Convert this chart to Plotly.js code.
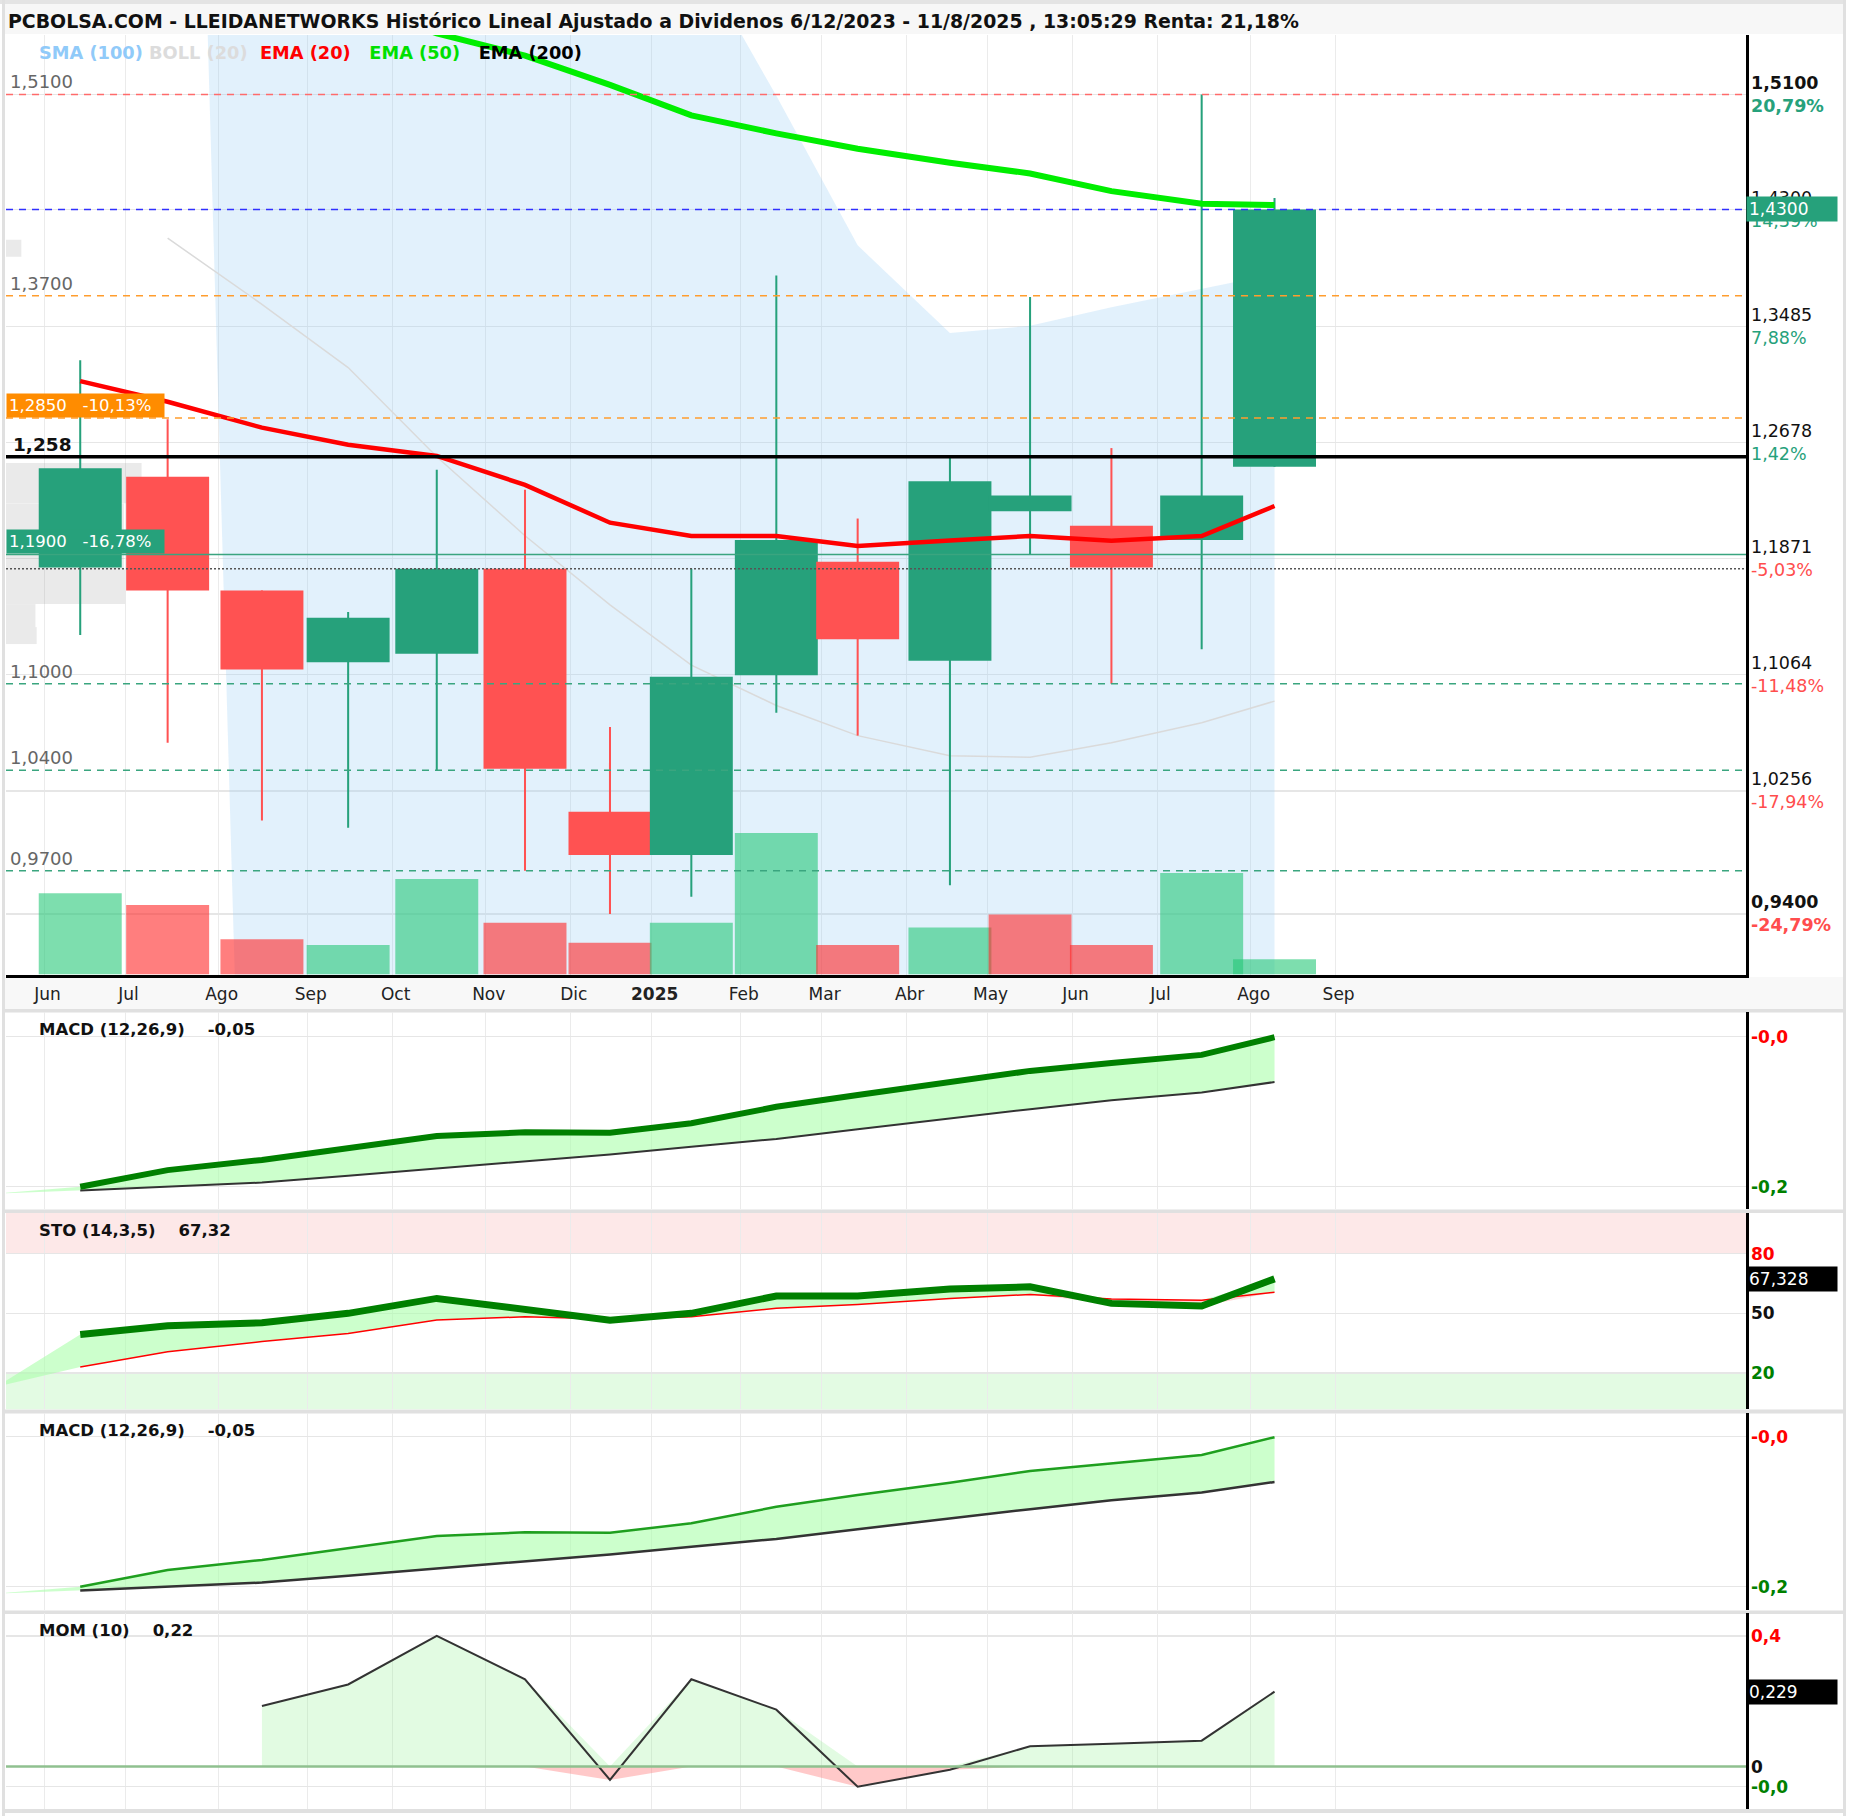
<!DOCTYPE html>
<html>
<head>
<meta charset="utf-8">
<script src="https://cdn.plot.ly/plotly-3.0.1.min.js"></script>
<style>html,body{margin:0;padding:0;background:#fff}#chart{width:1850px;height:1816px}</style>
</head>
<body>
<div id="chart"></div>
<script>
// ------------------------------------------------------------------ DATA
const titleText = 'PCBOLSA.COM - LLEIDANETWORKS Histórico Lineal Ajustado a Dividenos 6/12/2023 - 11/8/2025 , 13:05:29 Renta: 21,18%';

// monthly bars Jun 2024 .. Ago 2025 ; x = trading-session index (0 = first session of Jun 2024)
const candleMonths  = ['2024-06','2024-07','2024-08','2024-09','2024-10','2024-11','2024-12','2025-01','2025-02','2025-03','2025-04','2025-05','2025-06','2025-07','2025-08'];
const candleSession = [8.8, 30.4, 53.7, 75, 96.9, 118.7, 139.7, 159.8, 180.8, 200.9, 223.7, 243.5, 263.6, 285.9, 303.9];
const openP  = [1.181, 1.244, 1.165, 1.115, 1.121, 1.180, 1.011, 0.981, 1.106, 1.185, 1.116, 1.220, 1.210, 1.200, 1.251];
const highP  = [1.325, 1.284, 1.165, 1.150, 1.249, 1.235, 1.070, 1.180, 1.384, 1.215, 1.258, 1.369, 1.264, 1.510, 1.438];
const lowP   = [1.134, 1.059, 1.005, 1.000, 1.040, 0.970, 0.940, 0.952, 1.080, 1.064, 0.960, 1.190, 1.100, 1.124, 1.251];
const closeP = [1.250, 1.165, 1.110, 1.146, 1.180, 1.041, 0.981, 1.105, 1.200, 1.131, 1.241, 1.231, 1.181, 1.231, 1.430];
const volume = [690, 590, 300, 250, 810, 440, 270, 440, 1200, 250, 400, 510, 250, 860, 130];

// overlays on price
const ema20 = [1.3106, 1.2962, 1.2782, 1.2663, 1.2585, 1.2384, 1.2121, 1.2028, 1.2028, 1.1959, 1.1998, 1.2028, 1.1995, 1.2028, 1.2237];
const ema50 = [1.640, 1.620, 1.600, 1.575, 1.5524, 1.537, 1.5166, 1.4954, 1.4829, 1.4722, 1.4624, 1.455, 1.4427, 1.434, 1.433];
const bollUpper = [null, 2.52, 2.30, 2.10, 1.95, 1.82, 1.71, 1.613, 1.509, 1.405, 1.344, 1.349, 1.362, 1.375, 1.385];
const bollLower = [null, 2.52, 0.24, 0.40, 0.52, 0.60, 0.66, 0.70, 0.74, 0.78, 0.80, 0.82, 0.83, 0.84, 0.85];
const bollMid   = [null, 1.410, 1.364, 1.320, 1.258, 1.203, 1.155, 1.113, 1.085, 1.064, 1.050, 1.049, 1.059, 1.073, 1.088];

// volume by price (left profile)
const profilePrice  = [1.403, 1.2396, 1.2025, 1.1675, 1.1475, 1.1336];
const profileBin    = [0.0119, 0.0281, 0.046, 0.024, 0.016, 0.0118];
const profileVolume = [130, 1150, 1000, 1010, 250, 260];

// indicators
const macdLine   = [-0.198, -0.1814, -0.1712, -0.1596, -0.1474, -0.1436, -0.1441, -0.1346, -0.1181, -0.1063, -0.094, -0.0822, -0.0744, -0.0662, -0.0485];
const macdSignal = [-0.2019, -0.1982, -0.1939, -0.187, -0.18, -0.1727, -0.1657, -0.158, -0.1502, -0.1405, -0.1297, -0.1205, -0.1116, -0.1038, -0.0933];
const stoK = [39.4, 43.8, 45.3, 50, 57.5, 52, 46.6, 50, 58.7, 58.7, 62.2, 63.3, 55, 53.7, 67.3];
const stoD = [23.1, 30.7, 35.8, 39.9, 46.6, 48.3, 47.1, 48.3, 52.5, 54.5, 57.5, 59.5, 57.2, 56.6, 60.6];
const mom  = [null, null, 0.185, 0.251, 0.400, 0.267, -0.041, 0.267, 0.174, -0.062, -0.010, 0.062, 0.070, 0.079, 0.229];
// values of the month before the first bar (May 2024)
const prevSession = -12, prevMacd = -0.205, prevSignal = -0.205, prevK = 13, prevD = 13;

// axis ticks
const monthStart  = [0, 20, 43, 65, 86, 109, 130, 150, 172, 192, 213, 233, 254, 275, 298, 319];
const monthLabels = ['Jun','Jul','Ago','Sep','Oct','Nov','Dic','2025','Feb','Mar','Abr','May','Jun','Jul','Ago','Sep'];
const priceTickVals = [1.51, 1.43, 1.3485, 1.2678, 1.1871, 1.1064, 1.0256, 0.94];
const priceTickText = ['1,5100','1,4300','1,3485','1,2678','1,1871','1,1064','1,0256','0,9400'];
const priceTickPct  = ['20,79%','14,39%','7,88%','1,42%','-5,03%','-11,48%','-17,94%','-24,79%'];
const levelValues   = [1.51, 1.43, 1.37, 1.285, 1.258, 1.19, 1.18, 1.10, 1.04, 0.97];
const leftLevelVals = [1.51, 1.37, 1.10, 1.04, 0.97];
const leftLevelText = ['1,5100','1,3700','1,1000','1,0400','0,9700'];
const macdTickVals = [-0.048, -0.198], macdTickText = ['-0,0', '-0,2'];
const stoTickVals  = [80, 50, 20],     stoTickText  = ['80', '50', '20'];
const momTickVals  = [0.4, 0, -0.0615], momTickText = ['0,4', '0', '-0,0'];
const lastPrice = 1.43, lastPriceText = '1,4300';
const lastSto = 67.328, lastStoText = '67,328';
const lastMom = 0.229, lastMomText = '0,229';
const refLevelA = 1.285, refLevelAText = '1,2850&nbsp;&nbsp; -10,13%';
const refLevelB = 1.19,  refLevelBText = '1,1900&nbsp;&nbsp; -16,78%';
const pivotLevel = 1.258, pivotText = '1,258';

// ------------------------------------------------------------------ STYLE
const F = 'DejaVu Sans, Verdana, sans-serif';
const GREEN = '#26a17b', RED = '#ff5252';
const xRange = [-9.54, 420.4];
const priceRange = [0.8978, 1.5513];
const BODY_W = 20.5, WICK_W = 0.5;
const PROFILE_SCALE = 33.5 / 1150;   // sessions of chart width per profile volume unit
const px2x = X => (X - 6) / 1740;
const px2y = Y => (1811 - Y) / 1776;

const upBar = closeP.map((c, i) => c >= openP[i]);
const barColor = upBar.map(u => u ? GREEN : RED);
const volColor = closeP.map((c, i) => c >= (i ? closeP[i - 1] : openP[i]) ? 'rgba(38,200,120,0.6)' : 'rgba(255,40,40,0.6)');

const traces = [];
const noHover = {hoverinfo: 'skip'};

// ---- base main subplot: volume profile, bollinger band, mid line
traces.push(Object.assign({type: 'bar', orientation: 'h', xaxis: 'x', yaxis: 'y',
  y: profilePrice, x: profileVolume.map(v => v * PROFILE_SCALE), base: xRange[0], width: profileBin,
  marker: {color: 'rgba(150,150,150,0.2)', line: {width: 0}}}, noHover));
const bIdx = bollUpper.map((v, i) => v == null ? -1 : i).filter(i => i >= 0);
traces.push(Object.assign({type: 'scatter', mode: 'lines', xaxis: 'x', yaxis: 'y',
  x: bIdx.map(i => candleSession[i]), y: bIdx.map(i => bollLower[i]),
  line: {width: 0, color: 'rgba(0,0,0,0)'}}, noHover));
traces.push(Object.assign({type: 'scatter', mode: 'lines', xaxis: 'x', yaxis: 'y',
  x: bIdx.map(i => candleSession[i]), y: bIdx.map(i => bollUpper[i]),
  fill: 'tonexty', fillcolor: 'rgba(150,205,245,0.28)', line: {width: 0, color: 'rgba(0,0,0,0)'}}, noHover));
traces.push(Object.assign({type: 'scatter', mode: 'lines', xaxis: 'x', yaxis: 'y',
  x: bIdx.map(i => candleSession[i]), y: bIdx.map(i => bollMid[i]),
  line: {width: 1.5, color: '#dadada'}}, noHover));

// ---- volume overlay
traces.push(Object.assign({type: 'bar', xaxis: 'x', yaxis: 'y6', x: candleSession, y: volume, width: BODY_W,
  marker: {color: volColor, line: {width: 0}}}, noHover));

// ---- candles + EMAs overlay
traces.push(Object.assign({type: 'bar', xaxis: 'x', yaxis: 'y7', x: candleSession,
  base: lowP, y: highP.map((h, i) => h - lowP[i]), width: WICK_W,
  marker: {color: barColor, line: {width: 0}}}, noHover));
traces.push(Object.assign({type: 'bar', xaxis: 'x', yaxis: 'y7', x: candleSession,
  base: openP.map((o, i) => Math.min(o, closeP[i])), y: openP.map((o, i) => Math.abs(closeP[i] - o)), width: BODY_W,
  marker: {color: barColor, line: {width: 0}}}, noHover));
traces.push(Object.assign({type: 'scatter', mode: 'lines', xaxis: 'x', yaxis: 'y7', x: candleSession, y: ema50,
  line: {width: 6, color: '#00ee00'}}, noHover));
traces.push(Object.assign({type: 'scatter', mode: 'lines', xaxis: 'x', yaxis: 'y7', x: candleSession, y: ema20,
  line: {width: 4.5, color: '#ff0000'}}, noHover));

// ---- MACD panels
function macdPanel(yax, macdW, macdC, sigW) {
  const xf = [prevSession].concat(candleSession);
  traces.push(Object.assign({type: 'scatter', mode: 'lines', xaxis: 'x', yaxis: yax, x: xf,
    y: [prevSignal].concat(macdSignal), line: {width: 0, color: 'rgba(0,0,0,0)'}}, noHover));
  traces.push(Object.assign({type: 'scatter', mode: 'lines', xaxis: 'x', yaxis: yax, x: xf,
    y: [prevMacd].concat(macdLine), fill: 'tonexty', fillcolor: 'rgba(170,255,170,0.6)',
    line: {width: 0, color: 'rgba(0,0,0,0)'}}, noHover));
  traces.push(Object.assign({type: 'scatter', mode: 'lines', xaxis: 'x', yaxis: yax, x: candleSession,
    y: macdSignal, line: {width: sigW, color: '#333333'}}, noHover));
  traces.push(Object.assign({type: 'scatter', mode: 'lines', xaxis: 'x', yaxis: yax, x: candleSession,
    y: macdLine, line: {width: macdW, color: macdC}}, noHover));
}
macdPanel('y2', 6, '#008000', 2);

// ---- STO panel
{
  const xf = [prevSession].concat(candleSession);
  const kf = [prevK].concat(stoK), df = [prevD].concat(stoD);
  const hi = kf.map((k, i) => Math.max(k, df[i])), lo = kf.map((k, i) => Math.min(k, df[i]));
  traces.push(Object.assign({type: 'scatter', mode: 'lines', xaxis: 'x', yaxis: 'y3', x: xf, y: df,
    line: {width: 0, color: 'rgba(0,0,0,0)'}}, noHover));
  traces.push(Object.assign({type: 'scatter', mode: 'lines', xaxis: 'x', yaxis: 'y3', x: xf, y: hi,
    fill: 'tonexty', fillcolor: 'rgba(170,255,170,0.6)', line: {width: 0, color: 'rgba(0,0,0,0)'}}, noHover));
  traces.push(Object.assign({type: 'scatter', mode: 'lines', xaxis: 'x', yaxis: 'y3', x: xf, y: df,
    line: {width: 0, color: 'rgba(0,0,0,0)'}}, noHover));
  traces.push(Object.assign({type: 'scatter', mode: 'lines', xaxis: 'x', yaxis: 'y3', x: xf, y: lo,
    fill: 'tonexty', fillcolor: 'rgba(255,150,150,0.4)', line: {width: 0, color: 'rgba(0,0,0,0)'}}, noHover));
  traces.push(Object.assign({type: 'scatter', mode: 'lines', xaxis: 'x', yaxis: 'y3', x: candleSession, y: stoD,
    line: {width: 1.5, color: '#ff0000'}}, noHover));
  traces.push(Object.assign({type: 'scatter', mode: 'lines', xaxis: 'x', yaxis: 'y3', x: candleSession, y: stoK,
    line: {width: 7, color: '#008000'}}, noHover));
}

macdPanel('y4', 2.5, '#1f9f1f', 2.5);

// ---- MOM panel
traces.push(Object.assign({type: 'scatter', mode: 'lines', xaxis: 'x', yaxis: 'y5', x: candleSession,
  y: mom.map(v => v == null ? null : Math.max(v, 0)), fill: 'tozeroy', fillcolor: 'rgba(150,240,150,0.28)',
  line: {width: 0, color: 'rgba(0,0,0,0)'}}, noHover));
traces.push(Object.assign({type: 'scatter', mode: 'lines', xaxis: 'x', yaxis: 'y5', x: candleSession,
  y: mom.map(v => v == null ? null : Math.min(v, 0)), fill: 'tozeroy', fillcolor: 'rgba(255,120,120,0.4)',
  line: {width: 0, color: 'rgba(0,0,0,0)'}}, noHover));
traces.push(Object.assign({type: 'scatter', mode: 'lines', xaxis: 'x', yaxis: 'y5', x: candleSession, y: mom,
  line: {width: 2, color: '#333333'}}, noHover));

// ------------------------------------------------------------------ SHAPES
const shapes = [];
const rectPx = (X0, Y0, X1, Y1, color) => shapes.push({type: 'rect', xref: 'paper', yref: 'paper',
  x0: px2x(X0), x1: px2x(X1), y0: px2y(Y1), y1: px2y(Y0), fillcolor: color, line: {width: 0}, layer: 'below'});
rectPx(0, 0, 1846, 4, '#e4e4e4');          // top border
rectPx(3, 4, 1843, 34, '#f7f7f7');         // title bar
rectPx(2, 0, 5, 1816, '#e0e0e0');          // left frame
rectPx(1843, 0, 1846, 1816, '#e0e0e0');    // right frame
rectPx(5, 977, 1843, 1009, '#f8f8f8');     // x label strip
rectPx(5, 1009, 1843, 1012.5, '#e0e0e0');
rectPx(5, 1209.5, 1843, 1213, '#e0e0e0');
rectPx(5, 1409.5, 1843, 1413.5, '#e0e0e0');
rectPx(5, 1610.5, 1843, 1614, '#e0e0e0');
rectPx(5, 1809, 1843, 1813, '#e0e0e0');

// STO zones
shapes.push({type: 'rect', xref: 'paper', yref: 'y3', x0: 0, x1: 1, y0: 80, y1: 100.4, fillcolor: '#fde8e8', line: {width: 0}, layer: 'below'});
shapes.push({type: 'rect', xref: 'paper', yref: 'y3', x0: 0, x1: 1, y0: 1.7, y1: 20, fillcolor: '#e3fbe3', line: {width: 0}, layer: 'below'});
// MOM zero line
shapes.push({type: 'line', xref: 'paper', yref: 'y5', x0: 0, x1: 1, y0: 0, y1: 0, line: {color: '#8fc08f', width: 2.5}, layer: 'above'});

// price levels
const levelStyle = [
  {color: '#ff6b6b', width: 1.5, dash: '7px,6px'},
  {color: '#3030ff', width: 1.5, dash: '7px,6px'},
  {color: '#ff9d2e', width: 1.5, dash: '7px,6px'},
  {color: '#ff9d2e', width: 1.5, dash: '7px,6px'},
  {color: '#000000', width: 3.5, dash: 'solid'},
  {color: '#3aa57f', width: 1.5, dash: 'solid'},
  {color: '#555555', width: 1.5, dash: '2px,2px'},
  {color: '#3aa57f', width: 1.5, dash: '7px,6px'},
  {color: '#3aa57f', width: 1.5, dash: '7px,6px'},
  {color: '#3aa57f', width: 1.5, dash: '7px,6px'}
];
levelValues.forEach((v, i) => shapes.push({type: 'line', xref: 'paper', yref: 'y', x0: 0, x1: 1, y0: v, y1: v,
  line: levelStyle[i], layer: 'above'}));

// ------------------------------------------------------------------ ANNOTATIONS
const ann = [];
const A = o => ann.push(Object.assign({showarrow: false}, o));

// indicator legend
A({xref: 'paper', yref: 'paper', x: px2x(37), y: px2y(52), xanchor: 'left', yanchor: 'middle',
  text: '<b><span style="color:#90caf9">SMA (100)</span> <span style="color:#dcdcdc">BOLL (20)</span>&nbsp;&nbsp;<span style="color:#ff0000">EMA (20)</span>&nbsp;&nbsp; <span style="color:#00e000">EMA (50)</span>&nbsp;&nbsp; <span style="color:#000">EMA (200)</span></b>',
  font: {family: F, size: 17.8}});

// left level labels
leftLevelVals.forEach((v, i) => A({xref: 'paper', yref: 'y', x: px2x(8), y: v, xanchor: 'left', yanchor: 'bottom', yshift: 0,
  text: leftLevelText[i], font: {family: F, size: 18, color: '#666'}}));
A({xref: 'paper', yref: 'y', x: px2x(11), y: pivotLevel, xanchor: 'left', yanchor: 'bottom', yshift: 0,
  text: '<b>' + pivotText + '</b>', font: {family: F, size: 18.5, color: '#111'}});
A({xref: 'paper', yref: 'y', x: 0, y: refLevelA, xanchor: 'left', yanchor: 'bottom', align: 'left', width: 153, borderpad: 2,
  bgcolor: '#ff8c00', text: refLevelAText, font: {family: F, size: 16.5, color: '#fff'}});
A({xref: 'paper', yref: 'y', x: 0, y: refLevelB, xanchor: 'left', yanchor: 'bottom', align: 'left', width: 153, borderpad: 2,
  bgcolor: GREEN, text: refLevelBText, font: {family: F, size: 16.5, color: '#fff'}});

// right price labels
priceTickVals.forEach((v, i) => {
  const bold = (i === 0 || i === priceTickVals.length - 1);
  const pc = priceTickPct[i].charAt(0) === '-' ? '#ff4d4d' : GREEN;
  const b = s => bold ? '<b>' + s + '</b>' : s;
  A({xref: 'paper', yref: 'y', x: 1, y: v, xanchor: 'left', yanchor: 'middle', xshift: 3, align: 'left',
    text: b(priceTickText[i]) + '<br><span style="color:' + pc + '">' + b(priceTickPct[i]) + '</span>',
    font: {family: F, size: 17.5, color: '#111'}});
});
A({xref: 'paper', yref: 'y', x: 1, y: lastPrice, xanchor: 'left', yanchor: 'middle', align: 'left', width: 86, borderpad: 2,
  bgcolor: GREEN, text: lastPriceText, font: {family: F, size: 17, color: '#fff'}});

// panel headers
const headers = [['y2', 'MACD (12,26,9)&nbsp;&nbsp;&nbsp; -0,05'], ['y3', 'STO (14,3,5)&nbsp;&nbsp;&nbsp; 67,32'],
                 ['y4', 'MACD (12,26,9)&nbsp;&nbsp;&nbsp; -0,05'], ['y5', 'MOM (10)&nbsp;&nbsp;&nbsp; 0,22']];
headers.forEach(h => A({xref: 'paper', yref: h[0] + ' domain', x: px2x(37), y: 1, xanchor: 'left', yanchor: 'top', yshift: -6,
  text: '<b>' + h[1] + '</b>', font: {family: F, size: 16.5, color: '#111'}}));

// sub-panel right labels
function sideLabels(yax, vals, texts, colors) {
  vals.forEach((v, i) => A({xref: 'paper', yref: yax, x: 1, y: v, xanchor: 'left', yanchor: 'middle', xshift: 3,
    text: '<b>' + texts[i] + '</b>', font: {family: F, size: 17, color: colors[i]}}));
}
sideLabels('y2', macdTickVals, macdTickText, ['#ff0000', '#008000']);
sideLabels('y3', stoTickVals, stoTickText, ['#ff0000', '#111', '#008000']);
sideLabels('y4', macdTickVals, macdTickText, ['#ff0000', '#008000']);
sideLabels('y5', momTickVals, momTickText, ['#ff0000', '#111', '#008000']);
A({xref: 'paper', yref: 'y3', x: 1, y: lastSto, xanchor: 'left', yanchor: 'middle', align: 'left', width: 86, borderpad: 2,
  bgcolor: '#000', text: lastStoText, font: {family: F, size: 17, color: '#fff'}});
A({xref: 'paper', yref: 'y5', x: 1, y: lastMom, xanchor: 'left', yanchor: 'middle', align: 'left', width: 86, borderpad: 2,
  bgcolor: '#000', text: lastMomText, font: {family: F, size: 17, color: '#fff'}});

// ------------------------------------------------------------------ LAYOUT
const yBase = {anchor: 'x', side: 'right', tickmode: 'array', showticklabels: false, showgrid: true,
  gridcolor: '#e6e6e6', gridwidth: 1.5, zeroline: false, showline: true, linecolor: '#000', linewidth: 2.5, ticks: '', fixedrange: true};
const layout = {
  width: 1850, height: 1816,
  margin: {l: 6, r: 104, t: 35, b: 5, pad: 0},
  paper_bgcolor: '#ffffff', plot_bgcolor: '#ffffff',
  font: {family: F, size: 17, color: '#222'},
  showlegend: false, barmode: 'overlay', hovermode: false,
  title: {text: '<b>' + titleText + '</b>', x: 8 / 1850, xref: 'container', xanchor: 'left',
          y: 1 - 21 / 1816, yref: 'container', yanchor: 'middle', font: {family: F, size: 18.9, color: '#111'}},
  xaxis: {domain: [0, 1], anchor: 'y', range: xRange, tickmode: 'array', tickvals: monthStart,
          ticktext: monthLabels.map(l => /^\d{4}$/.test(l) ? '<b>' + l + '</b>' : l),
          showgrid: true, gridcolor: '#ebebeb', gridwidth: 1.5, zeroline: false,
          showline: true, linecolor: '#000', linewidth: 3, ticks: '', ticklabelstandoff: 2, ticklabelshift: 3,
          tickfont: {family: F, size: 17, color: '#222'}, fixedrange: true},
  yaxis:  Object.assign({}, yBase, {domain: [0.47095, 1], range: priceRange, tickvals: priceTickVals}),
  yaxis2: Object.assign({}, yBase, {domain: [0.33896, 0.44961], range: [-0.2203, -0.0238], tickvals: macdTickVals}),
  yaxis3: Object.assign({}, yBase, {domain: [0.22607, 0.33671], range: [1.7, 100.4], tickvals: stoTickVals}),
  yaxis4: Object.assign({}, yBase, {domain: [0.11318, 0.22382], range: [-0.2213, -0.0248], tickvals: macdTickVals}),
  yaxis5: Object.assign({}, yBase, {domain: [0.00113, 0.11149], range: [-0.130, 0.4698], tickvals: [momTickVals[0], momTickVals[2]]}),
  yaxis6: {overlaying: 'y', anchor: 'x', side: 'right', range: [0, 7960], visible: false, fixedrange: true},
  yaxis7: {overlaying: 'y', anchor: 'x', side: 'right', range: priceRange, visible: false, fixedrange: true},
  shapes: shapes,
  annotations: ann
};

Plotly.newPlot('chart', traces, layout, {staticPlot: true, displayModeBar: false});
</script>
</body>
</html>
